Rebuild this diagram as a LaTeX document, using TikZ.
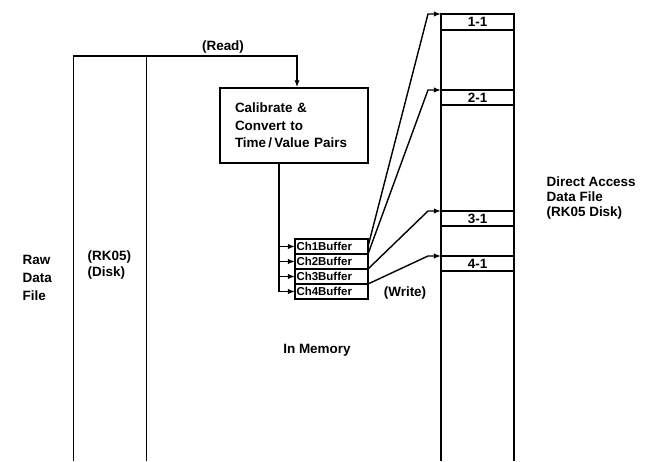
\documentclass[tikz,border=0pt]{standalone}
\usepackage{fontspec}
\setmainfont{Liberation Sans}
\usetikzlibrary{arrows.meta,positioning}

\begin{document}
\begin{tikzpicture}[
    font=\bfseries\fontsize{11.5}{15}\selectfont,
    line width=1.2pt,
    disk/.style={minimum width=2.19cm, inner sep=0pt, outer sep=0pt},
    slot/.style={draw, minimum width=2.19cm, inner sep=0pt, outer sep=0pt},
    buf/.style={draw, minimum width=2.19cm, minimum height=0.45cm, text width=2.1cm, align=left, inner xsep=0.04cm, inner ysep=0pt, outer sep=0pt, font=\bfseries\fontsize{9.8}{10}\selectfont},
    label/.style={align=left, anchor=west},
    arrow/.style={-{Latex[length=6pt, width=4.5pt]}, line width=1.2pt}
]
  \useasboundingbox (0,0) rectangle (19.44,13.83);

  % =========================================================================
  % RAW DATA FILE (RK05 DISK)
  % =========================================================================
  \node[disk, minimum height=12.15cm] (raw) at (3.3, 6.075) {};
  \draw (raw.north east) -- (raw.south east);

  \node[label] (lbl_raw) at (0.54, 5.49) {Raw\\Data\\File};
  \node[label, font=\bfseries\fontsize{11.5}{13.8}\selectfont] (lbl_rk) at (2.49, 5.88) {(RK05)\\(Disk)};

  % =========================================================================
  % IN MEMORY: CALIBRATION AND BUFFERS
  % =========================================================================
  \node[draw, minimum width=4.44cm, minimum height=2.25cm, text width=3.54cm, inner xsep=0.45cm, align=left] (calib) at (8.82, 10.065) {
    Calibrate \&\\
    Convert to\\
    Time\,/\,Value Pairs
  };

  \coordinate (readin) at ([xshift=0.09cm]calib.north);
  \draw[arrow] (raw.south west) -- (raw.north west) -| (readin);
  \node (lbl_read) at (6.69, 12.42) {(Read)};

  \node[buf] (b1) at (9.945, 6.435) {Ch1Buffer};
  \node[buf, below=0pt of b1] (b2) {Ch2Buffer};
  \node[buf, below=0pt of b2] (b3) {Ch3Buffer};
  \node[buf, below=0pt of b3] (b4) {Ch4Buffer};

  % Distribution to the channel buffers
  \coordinate (trunk) at ([xshift=-0.45cm]calib.south);
  \draw[arrow] (trunk) -- (trunk |- b4.west) -- (b4.west);
  \draw[arrow] (trunk |- b1.west) -- (b1.west);
  \draw[arrow] (trunk |- b2.west) -- (b2.west);
  \draw[arrow] (trunk |- b3.west) -- (b3.west);

  \node (lbl_write) at (12.15, 5.04) {(Write)};
  \node (lbl_mem) at (9.51, 3.33) {In Memory};

  % =========================================================================
  % DIRECT ACCESS DATA FILE (RK05 DISK)
  % =========================================================================
  \node[disk, minimum height=13.41cm] (dac) at (14.325, 6.705) {};
  \draw (dac.north west) -- (dac.south west);
  \draw (dac.north east) -- (dac.south east);

  \node[slot, minimum height=0.48cm] (s1) at (14.325, 13.17) {1-1};
  \node[slot, minimum height=0.45cm] (s2) at (14.325, 10.905) {2-1};
  \node[slot, minimum height=0.45cm] (s3) at (14.325, 7.275) {3-1};
  \node[slot, minimum height=0.45cm] (s4) at (14.325, 5.925) {4-1};

  \node[label, font=\bfseries\fontsize{11.5}{13.2}\selectfont] (lbl_dac) at (16.26, 7.89) {Direct Access\\Data File\\(RK05 Disk)};

  % Write paths
  \draw[arrow] (b1.east) -- ([xshift=-0.39cm]s1.north west) -- (s1.north west);
  \draw[arrow] (b1.south east) -- ([xshift=-0.39cm]s2.north west) -- (s2.north west);
  \draw[arrow] (b2.south east) -- ([xshift=-0.39cm]s3.north west) -- (s3.north west);
  \draw[arrow] (b3.south east) -- ([xshift=-0.39cm]s4.north west) -- (s4.north west);

\end{tikzpicture}
\end{document}
